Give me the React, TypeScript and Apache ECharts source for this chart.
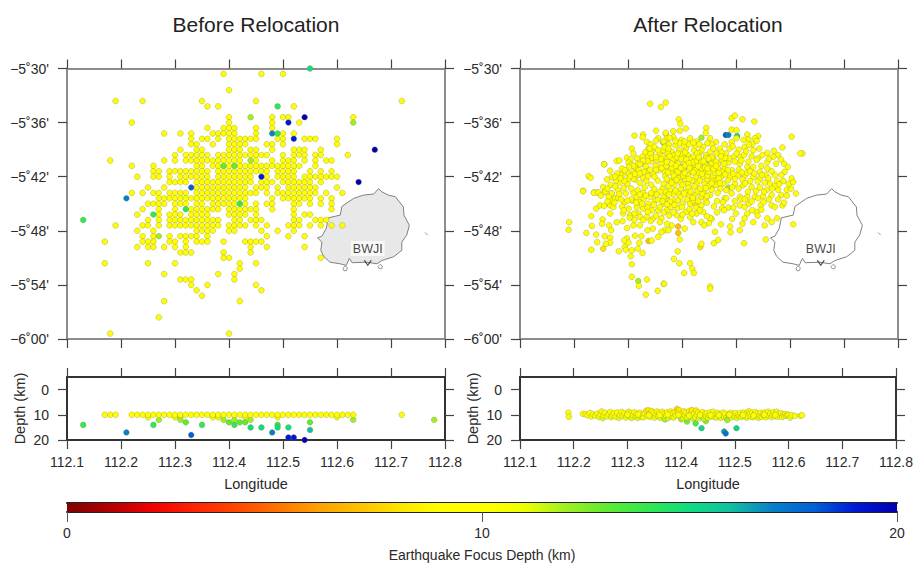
import React, { useEffect, useRef } from "react";
import * as echarts from "echarts";

const titles = ["Before Relocation", "After Relocation"];
const lonTicks = [112.1, 112.8];
const depthTickValues = [0, 10, 20];
const depthColors = ["#800000", "#b00000", "#ee0000", "#ff2000", "#ff4400", "#ff7000", "#ff9f00", "#ffc000", "#ffe400", "#ffff00", "#ffff00", "#f0ff00", "#a0f020", "#60ea30", "#30e850", "#10dc80", "#10c0a0", "#0880c8", "#0060d8", "#0018d8", "#0000b0"];

// Before relocation: epicentres on a 0.01 degree net.
// [hundredths south of 5.5S, [hundredths east of 112.1E ...]] all at 10 km
const beforeRows: [number, number[]][] = [
  [1, [29, 36, 40]], [4, [30]], [6, [9, 14, 25, 35, 62]], [7, [26, 28, 42]],
  [9, [30, 38, 40, 41, 53]], [10, [12, 30, 38, 43]], [11, [26, 29, 30, 31, 35, 38]],
  [12, [18, 21, 23, 27, 28, 29, 30, 31, 35, 40, 42]],
  [13, [23, 25, 26, 28, 30, 31, 32, 33, 34, 35, 39, 40, 44, 45, 46, 50]],
  [14, [23, 24, 27, 30, 31, 32, 33, 37, 38, 40, 50]],
  [15, [21, 24, 25, 30, 31, 32, 34, 35, 38, 42, 43, 44, 47]],
  [16, [20, 22, 23, 24, 25, 26, 28, 29, 30, 31, 32, 33, 34, 35, 36, 37, 40, 42, 43, 44, 46, 47, 52]],
  [17, [8, 18, 20, 22, 23, 24, 25, 26, 27, 28, 29, 30, 31, 32, 35, 38, 40, 41, 42, 44, 46, 48, 49]],
  [18, [12, 16, 24, 25, 27, 28, 30, 32, 33, 34, 35, 36, 37, 38, 39, 40, 41, 42, 43, 46]],
  [19, [16, 17, 19, 20, 21, 22, 23, 24, 25, 26, 28, 29, 30, 31, 32, 33, 34, 35, 36, 37, 39, 40, 41, 42, 45, 47, 49]],
  [20, [13, 16, 17, 19, 21, 22, 23, 24, 25, 26, 28, 29, 30, 31, 32, 33, 34, 37, 39, 40, 41, 42, 44, 45, 46, 47, 48, 49, 50]],
  [21, [19, 20, 21, 22, 24, 25, 26, 27, 28, 29, 30, 31, 32, 33, 34, 36, 37, 38, 40, 41, 42, 43, 44, 45, 47]],
  [22, [15, 18, 24, 25, 26, 27, 28, 29, 30, 31, 32, 33, 35, 36, 37, 39, 41, 42, 43, 44, 45, 46, 50]],
  [23, [12, 14, 16, 17, 19, 20, 21, 22, 24, 25, 26, 27, 28, 29, 30, 31, 32, 33, 34, 35, 37, 39, 40, 41, 42, 43, 44, 45, 46, 48, 51]],
  [24, [17, 18, 19, 20, 21, 22, 23, 24, 25, 26, 27, 28, 29, 30, 31, 32, 33, 38, 40, 41, 42, 43, 44, 45, 47, 49]],
  [25, [15, 16, 17, 18, 20, 21, 22, 24, 25, 27, 28, 29, 30, 31, 33, 35, 37, 38, 42, 43, 45, 47, 49]],
  [26, [14, 17, 20, 23, 24, 25, 26, 27, 28, 30, 31, 32, 33, 34, 35, 38, 42, 49]],
  [27, [13, 17, 19, 20, 21, 23, 24, 25, 26, 30, 31, 32, 33, 35, 42, 44, 45]],
  [28, [15, 17, 19, 20, 21, 22, 23, 24, 25, 26, 27, 28, 31, 32, 34, 35, 36, 42, 43, 46, 47, 48]],
  [29, [9, 14, 15, 17, 19, 20, 21, 22, 23, 24, 25, 26, 27, 28, 30, 31, 32, 33, 35, 37, 41, 42, 43, 45, 47, 49, 51]],
  [30, [13, 16, 24, 25, 26, 27, 30, 31, 36, 39, 42]],
  [31, [14, 16, 19, 21, 22, 23, 24, 26, 37, 41, 44]],
  [32, [7, 14, 15, 16, 19, 20, 22, 24, 25, 26, 29, 33, 34, 35, 36]],
  [33, [13, 15, 16, 18, 20, 22, 34, 37, 44]],
  [34, [21, 22, 23, 29, 34]], [35, [29, 30, 47]], [36, [7, 15, 20, 32, 35]], [37, [32]],
  [38, [18, 28, 31]], [39, [21, 22, 23, 31]], [40, [23, 26, 35]], [41, [24, 36]], [42, [25]],
  [43, [18, 32]], [46, [17]], [49, [8, 30]],
];
// [hundredths east, hundredths south, depth km]
const beforeColoured: number[][] = [
  [45, 0, 15], [39, 7, 14], [34, 9, 12], [44, 9, 20], [41, 10, 19], [53, 10, 12], [38, 12, 17], [39, 12, 14],
  [42, 13, 19], [57, 15, 20], [34, 17, 12], [29, 18, 13], [31, 18, 13], [36, 20, 19], [54, 21, 20], [23, 22, 18],
  [11, 24, 17], [32, 25, 14], [22, 26, 14], [16, 27, 14], [3, 28, 14], [17, 31, 12],
];
// Depth section before relocation: longitudes in hundredths east of 112.1
const beforeAt10 = [7, 8, 9, 12, 13, 14, 15, 16, 17, 18, 19, 20, 21, 22, 23, 24, 25, 26, 27, 28, 29, 30, 31, 32, 33, 34, 35, 36, 37, 38, 39, 40, 41, 42, 43, 44, 45, 46, 47, 48, 49, 50, 51, 52, 53, 62];
const beforeDeeper: number[][] = [
  [3, 14], [11, 17], [15, 11], [20, 11], [21, 11], [27, 11], [28, 11], [33, 11], [39, 11], [50, 11],
  [17, 12], [21, 12], [29, 12], [31, 12], [34, 12], [53, 12], [68, 12],
  [22, 13], [30, 13], [32, 13], [33, 13], [45, 13], [16, 14], [25, 14], [31, 14], [39, 14],
  [34, 15], [36, 15], [39, 15], [41, 15], [45, 16], [38, 17], [23, 18], [41, 19], [42, 19], [44, 20],
];

// After relocation: [thousandths east of 112E, thousandths south of 5S]
const afterPoints: number[][] = [
  [341,565],[370,563],[361,571],[352,615],[328,622],[312,624],[327,627],[370,621],[356,629],[352,633],[372,629],[335,636],
  [307,648],[338,648],[310,657],[332,655],[344,654],[359,658],[298,665],[305,668],[317,666],[327,663],[338,663],[367,670],[372,666],[301,674],
  [279,671],[284,670],[256,677],[267,689],[289,685],[227,699],[231,702],[270,701],[261,705],[217,726],[254,719],[237,729],[244,729],[257,728],[270,731],[282,725],
  [285,711],[299,713],[290,697],[301,694],[310,692],[492,592],[498,587],[512,594],[534,598],[394,594],[397,602],[407,611],[384,616],[445,610],[444,619],[396,615],[370,619],
  [492,613],[501,614],[521,622],[541,625],[535,629],[603,626],[452,629],[463,636],[479,640],[492,636],[501,629],[523,631],[538,634],[415,629],[399,632],[384,627],[366,635],
  [427,635],[439,645],[516,645],[543,648],[532,651],[586,646],[570,652],[578,660],[623,657],[619,657],[481,657],[464,657],[452,654],[436,651],[422,651],[407,648],[395,651],[381,654],[365,651],
  [508,663],[496,663],[515,660],[529,662],[541,666],[569,663],[558,673],[574,676],[589,676],[538,669],[486,674],[498,672],[507,676],[521,682],[532,682],[467,677],[455,675],[433,669],
  [421,663],[411,660],[402,663],[387,672],[424,679],[436,685],[452,685],[467,685],[479,685],[492,688],[544,691],[555,697],[572,697],[590,691],[603,703],[584,697],[532,700],[544,703],[560,703],[576,708],[563,713],
  [516,699],[504,697],[489,700],[473,700],[458,699],[439,700],[426,700],[411,697],[396,694],[381,693],[368,691],[384,706],[397,710],[411,713],[427,713],[442,713],[458,716],[476,713],[498,713],[513,716],[529,719],[544,720],[557,724],[578,724],[594,724],[602,722],[611,731],[584,734],[566,734],[550,736],[535,737],[521,737],[507,737],[492,731],[479,740],[465,745],[452,734],[436,737],[424,734],[408,728],[393,731],[378,725],[364,722],
  [371,740],[385,744],[401,750],[415,750],[436,753],[482,740],[476,747],[507,753],[516,756],[524,750],[546,753],[538,765],[547,761],[566,753],[572,756],[586,753],[589,748],[521,768],[516,777],[532,784],[512,787],[558,777],[576,777],[566,784],[553,790],[606,788],[555,816],[515,823],
  [489,792],[490,803],[472,788],[507,799],[455,778],[450,786],[461,802],[467,817],[459,823],[436,784],[421,784],[405,796],[396,816],[368,799],[381,790],[362,777],[390,771],[408,765],[427,768],[439,765],[452,776],[436,824],
  [392,838],[385,852],[395,860],[415,860],[419,870],[422,878],[404,878],[366,898],[452,903],[452,907],
  [191,784],[190,798],[232,773],[233,791],[223,804],[253,779],[252,787],[265,790],[269,799],[241,807],[257,810],[267,813],[243,821],[267,822],[259,824],[232,835],[283,838],[279,784],[290,782],[267,768],[241,759],[248,753],[267,753],[273,756],
  [298,814],[293,818],[301,822],[294,830],[296,835],[307,836],[321,822],[318,833],[327,841],[305,847],[307,862],[307,885],[320,902],[335,890],[367,898],[355,911],[333,918],[313,809],[325,810],[344,818],[356,811],[336,799],[298,795],[310,790],[322,790],[291,768],[304,771],[319,768],[335,774],[347,777],[359,784],[372,787],[346,796],[362,802],[375,799],
  [267,744],[276,740],[294,747],[307,744],[322,747],[338,750],[350,744],[365,750],[217,727],[237,730],[245,729],[258,728],[270,731],[296,731],[310,730],[328,730],[347,731],[369,728],[264,737],[282,739],[301,759],[316,756],[328,759],[344,762],[356,762],[372,762],[322,774],
  [306,678],[314,683],[325,676],[333,681],[342,672],[351,680],[362,676],[376,681],[383,668],[392,676],[404,672],[416,682],[426,672],[443,678],[458,667],[474,668],
  [318,697],[328,702],[336,690],[347,695],[357,688],[369,699],[377,707],[389,686],[403,687],[418,690],[431,693],[444,691],[461,693],[474,691],[485,688],
  [313,705],[322,712],[334,708],[343,715],[355,707],[366,713],[375,717],[386,715],[398,722],[406,704],[419,707],[433,707],[447,705],[462,707],[471,722],
  [292,721],[306,722],[318,725],[331,720],[349,723],[360,728],[372,735],[384,732],[397,738],[413,735],[429,727],[441,728],[455,724],[466,730],
  [342,640],[349,645],[356,651],[368,645],[376,640],[388,642],[396,638],[404,642],[413,640],[425,643],[432,656],[444,660],[455,664],[374,656],[386,660],[398,658],[415,668],[428,657],[364,662],[342,657],
  [306,742],[316,738],[329,741],[341,737],[355,742],[378,746],[392,744],[409,742],[421,744],[444,743],[348,752],[359,756],[379,756],[392,758],[414,760],[426,757],[446,748],[459,755],[474,758],[486,757],
  [371,680],[381,684],[392,691],[402,698],[413,704],[424,688],[436,672],[447,698],[456,708],[468,703],[349,700],[337,699],[329,691],[320,688],[310,704],[301,704],[293,708],[286,695],[278,707],[268,715],[262,722],[276,718],[284,732],[250,735],[262,746],[289,755],
  [312,768],[328,780],[342,782],[352,772],[366,766],[376,772],[398,778],[415,775],[441,790],[446,773],[465,766],[478,762],[495,757],[500,768],[493,778],[530,762],[540,772],[510,741],[498,745],[522,728],[537,727],[551,747],[561,742],[578,742],[594,735],[572,717],[588,708],[598,713],[553,711],[540,709],[526,708],[512,705],[498,704],[485,707],[520,693],[505,687],[510,670],[523,672],[547,680],[558,685],[566,690],[549,660],[558,656],[530,640],[505,650],[488,648],[470,648],[455,640],[445,665],
  [345,665],[353,669],[361,667],[377,662],[391,664],[399,667],[408,668],[419,674],[431,664],[440,671],[449,667],[463,672],[478,676],[372,673],[381,676],[389,680],[398,684],[406,679],[413,675],[430,681],[442,683],[449,691],[458,686],[468,693],
  [336,671],[328,670],[318,676],[310,680],[302,682],[294,688],[280,694],[276,700],[286,703],[304,699],[313,695],[322,694],[341,687],[352,687],[362,684],[374,692],[385,698],[393,703],[405,693],[414,684],[421,692],[437,695],[447,685],[463,680],
  [372,704],[381,711],[390,706],[401,715],[412,720],[423,718],[434,722],[449,717],[463,715],[480,696],[495,695],[511,692],[526,690],[534,694],[548,697],[517,712],[505,722],[493,720],[482,725],[470,712],[455,712],[444,721],[438,732],[446,736],
  [322,733],[333,735],[343,730],[353,733],[366,738],[376,733],[388,726],[404,731],[416,728],[420,739],[430,745],[400,756],[386,752],[372,751],[364,745],[336,757],[326,750],[315,748],[299,744],[287,742],[275,748],[256,754],[292,762],[303,776],[312,780],[337,765],[384,766],[401,770],[419,768],[433,762],
  [377,628],[388,634],[405,635],[421,637],[432,640],[447,638],[458,648],[473,655],[487,666],[501,657],[519,653],[524,641],[514,632],[494,644],[480,665],[472,662],[406,655],[392,657],[375,648],[352,664],[340,648],[322,677],[561,667],[583,668],[596,682],[606,710],[580,714],[567,722],[552,728],[541,740],[529,746],[516,742],
];
// [thousandths east of 112E, thousandths south of 5S, depth km]
const afterColoured: number[][] = [
  [481, 623, 18], [486, 623, 17], [502, 625, 15], [436, 628, 12], [447, 672, 12], [368, 671, 12], [396, 681, 12], [410, 681, 13], [486, 720, 12],
  [365, 637, 12], [256, 677, 12], [424, 751, 8], [393, 792, 7], [393, 804, 7], [434, 830, 8], [254, 833, 8], [338, 819, 7], [319, 893, 12],
];
// Depth section after relocation: [thousandths east of 112E, depth km]
const afterDepth: number[][] = [
  [190, 9.2], [191, 10.8], [217, 9.6], [222, 9.8], [226, 10.2], [230, 9.3], [233, 10.7], [236, 9.8], [240, 10.3], [244, 9.6], [247, 10.9], [250, 9.9], [252, 8.7], [254, 11.3], [256, 10.2], [258, 9.2], [262, 10.6], [265, 9.7], [268, 8.9], [270, 11], [272, 10.1], [275, 9.4], [278, 10.7], [281, 9.1],
  [284, 11.2], [286, 10], [289, 8.9], [291, 10.5], [294, 9.5], [297, 11.1], [299, 9.9], [302, 8.8], [304, 10.6], [306, 9.3], [308, 11.3], [310, 10], [313, 9], [315, 10.7], [317, 9.6], [319, 11.2], [321, 10.1], [323, 9.2], [326, 10.8], [328, 9.8], [330, 11], [332, 9.4], [335, 8.4], [337, 10.4], [339, 8.2], [341, 9.6], [343, 10.9], [345, 8.5], [347, 10.2], [349, 9.2], [351, 11.1],
  [353, 9.8], [355, 8.7], [357, 10.5], [359, 9.3], [361, 11.2], [363, 9.9], [365, 8.8], [367, 10.7], [369, 9.5], [370, 11.7], [372, 10.2], [374, 9], [376, 11.3], [378, 9.8], [380, 8.7], [382, 10.5], [384, 9.4], [386, 11.1], [388, 8.9], [390, 10.1], [392, 7.7], [394, 9.3], [396, 8.1], [398, 10.7], [400, 11.8], [401, 9.7], [403, 11.4], [405, 8.6], [407, 10.3], [409, 9.2], [411, 11], [413, 9.9], [415, 8.5], [417, 10.6], [419, 9.3], [420, 8.1], [422, 11.5], [424, 9.7], [426, 10.9], [428, 8.3], [430, 10.2], [432, 9.1], [434, 11.2], [436, 9.6], [438, 10.6], [440, 8.9], [442, 11.6],
  [444, 9.8], [446, 10.5], [448, 9.3], [450, 11.1], [452, 10.1], [454, 9.1], [456, 10.7], [458, 9.6], [460, 8.8], [462, 10.9], [464, 9.9], [466, 11.1], [468, 9.3], [470, 10.3], [472, 9.7], [474, 11.2], [476, 10], [478, 9.1], [480, 10.7], [482, 9.6], [484, 11.3], [486, 12.1], [488, 9.9], [490, 10.4], [492, 9.2], [494, 11], [496, 10.1], [498, 9.6], [500, 10.8], [502, 9.4], [504, 11.2], [506, 9.9], [508, 10.4], [510, 9.3], [512, 10.9], [514, 10], [516, 9.1], [518, 10.6], [520, 9.7], [522, 11.1], [524, 10.3], [526, 8.6], [528, 9.7], [530, 10.8], [532, 9.2], [534, 11], [536, 9.9], [538, 8.9], [540, 10.5], [542, 9.5], [544, 11.2], [546, 10.1], [548, 9.2], [550, 10.8], [552, 9.7], [554, 10.2], [556, 9.1], [558, 11], [560, 9.9], [562, 8.8], [564, 10.4], [566, 9.5], [568, 10.9], [570, 10], [572, 9], [574, 10.6], [576, 9.6], [578, 8.8], [580, 10.8], [582, 9.7], [584, 10.2], [586, 9.4], [588, 10.9], [590, 9.9], [592, 10.4], [594, 9.7], [596, 10.3], [598, 10], [600, 10.1], [603, 11.1], [606, 10.2], [612, 10.4], [622, 10.4], [625, 10.2],
  [300, 10], [320, 9.9], [340, 10.2], [360, 10.1], [375, 9.9], [395, 10.1], [415, 10.4], [435, 10.1], [455, 10.2], [470, 10.2], [490, 10], [515, 10.1], [535, 10.3], [555, 10], [575, 10.1],
];
const afterDepthDeep: number[][] = [
  [370, 11.8], [411, 12.7], [427, 13.4], [446, 12.5], [438, 15.3], [480, 16.6], [483, 17.4], [503, 15.3],
];

// BWJI island outline [lon, lat]
const islandLon = [112.677, 112.668, 112.649, 112.631, 112.609, 112.606, 112.584, 112.58, 112.572, 112.564, 112.572, 112.57, 112.575, 112.587, 112.606, 112.617, 112.623, 112.628, 112.655, 112.674, 112.683, 112.705, 112.72, 112.72, 112.729, 112.734, 112.724, 112.723, 112.708, 112.695, 112.683];
const islandLat = [-5.722, -5.732, -5.734, -5.74, -5.755, -5.771, -5.776, -5.796, -5.81, -5.813, -5.821, -5.836, -5.847, -5.858, -5.861, -5.864, -5.851, -5.859, -5.858, -5.861, -5.855, -5.848, -5.836, -5.821, -5.808, -5.79, -5.771, -5.756, -5.737, -5.734, -5.728];
const isletA = [[112.615, -5.865], [112.619, -5.868], [112.618, -5.873], [112.613, -5.874], [112.611, -5.869], [112.615, -5.865]];
const isletB = [[112.68, -5.862], [112.684, -5.865], [112.683, -5.87], [112.678, -5.87], [112.676, -5.866], [112.68, -5.862]];
const isletC = [[112.763, -5.803], [112.768, -5.808]];
const station = { name: "BWJI", lon: 112.657, lat: -5.859 };

const FONT = "Liberation Sans";
const TEXT = "#2a2a2a";

function latLabel(v: number) {
  const abs = Math.abs(v);
  const deg = Math.floor(abs + 1e-6);
  const min = Math.round((abs - deg) * 60);
  return `\u2212${deg}\u02da${String(min).padStart(2, "0")}'`;
}

function App() {
  const ref = useRef<HTMLDivElement>(null);
  useEffect(() => {
    const chart = echarts.init(ref.current!, undefined, { renderer: "svg" });

    const grids = [
      { left: 67, top: 68.5, width: 378, height: 270.5 },
      { left: 520, top: 68.5, width: 378, height: 270.5 },
      { left: 67, top: 377, width: 378, height: 63 },
      { left: 520, top: 377, width: 378, height: 63 },
      { left: 67, top: 503, width: 830, height: 10 },
    ];
    const xAxis: any[] = [];
    const yAxis: any[] = [];

    const lineX = (gridIndex: number, position: string, lineColor: string, labelled: boolean) => {
      xAxis.push({
        gridIndex, type: "value", position, min: lonTicks[0], max: lonTicks[1], interval: 0.1,
        axisLine: { onZero: false, lineStyle: { color: lineColor, width: 2 } },
        axisTick: { length: 9, inside: false, lineStyle: { color: "#444", width: 1.2 } },
        splitLine: { show: false },
        axisLabel: labelled
          ? { show: true, margin: 15, fontFamily: FONT, fontSize: 14, color: TEXT, formatter: (v: number) => v.toFixed(1), showMaxLabel: true, showMinLabel: true, hideOverlap: false }
          : { show: false },
        ...(labelled ? { name: "Longitude", nameLocation: "middle", nameGap: 36, nameTextStyle: { fontFamily: FONT, fontSize: 14.5, color: TEXT } } : {}),
      });
      return xAxis.length - 1;
    };
    const latY = (gridIndex: number, position: string, labelled: boolean) => {
      yAxis.push({
        gridIndex, type: "value", position, min: -6, max: -5.5, interval: 0.1,
        axisLine: { onZero: false, lineStyle: { color: "#8c8c8c", width: 2 } },
        axisTick: { length: 9, lineStyle: { color: "#444", width: 1.2 } },
        splitLine: { show: false },
        axisLabel: labelled ? { show: true, margin: 18, fontFamily: FONT, fontSize: 14, color: TEXT, formatter: latLabel } : { show: false },
      });
      return yAxis.length - 1;
    };
    const depthY = (gridIndex: number, position: string, labelled: boolean) => {
      yAxis.push({
        gridIndex, type: "value", position, min: -5, max: 20, inverse: true,
        axisLine: { onZero: false, lineStyle: { color: "#333", width: 2 } },
        axisTick: { length: 9, customValues: depthTickValues, lineStyle: { color: "#444", width: 1.2 } },
        splitLine: { show: false },
        axisLabel: labelled
          ? { show: true, margin: 18, fontFamily: FONT, fontSize: 14, color: TEXT, customValues: depthTickValues, formatter: (v: number) => String(v) }
          : { show: false },
        ...(labelled ? { name: "Depth (km)", nameLocation: "middle", nameRotate: 90, nameGap: 40, nameTextStyle: { fontFamily: FONT, fontSize: 14.5, color: TEXT } } : {}),
      });
      return yAxis.length - 1;
    };

    const mapAxes = [0, 1].map((g) => {
      const x = lineX(g, "bottom", "#8c8c8c", false);
      lineX(g, "top", "#8c8c8c", false);
      const y = latY(g, "left", true);
      latY(g, "right", false);
      return { x, y };
    });
    const depthAxes = [2, 3].map((g) => {
      const x = lineX(g, "bottom", "#333", true);
      lineX(g, "top", "#333", false);
      const y = depthY(g, "left", true);
      depthY(g, "right", false);
      return { x, y };
    });

    xAxis.push({
      gridIndex: 4, type: "value", position: "bottom", min: 0, max: 20, interval: 10,
      axisLine: { onZero: false, lineStyle: { color: "#222", width: 2 } },
      axisTick: { length: 10, lineStyle: { color: "#555", width: 1 } },
      splitLine: { show: false },
      axisLabel: { margin: 14, fontFamily: FONT, fontSize: 14, color: TEXT },
      name: "Earthquake Focus Depth (km)", nameLocation: "middle", nameGap: 36,
      nameTextStyle: { fontFamily: FONT, fontSize: 14, color: TEXT },
    });
    const barX = xAxis.length - 1;
    xAxis.push({
      gridIndex: 4, type: "value", position: "top", min: 0, max: 20,
      axisLine: { onZero: false, lineStyle: { color: "#222", width: 2 } },
      axisTick: { show: false }, axisLabel: { show: false }, splitLine: { show: false },
    });
    yAxis.push({
      gridIndex: 4, type: "value", min: 0, max: 1,
      axisLine: { show: false }, axisTick: { show: false }, axisLabel: { show: false }, splitLine: { show: false },
    });
    const barY = yAxis.length - 1;

    const dotStyle = { borderColor: "rgba(120,120,70,0.6)", borderWidth: 0.5, opacity: 1 };
    const scatter = (axes: { x: number; y: number }, data: number[][], size = 5.8) => ({
      type: "scatter", xAxisIndex: axes.x, yAxisIndex: axes.y, data, symbolSize: size,
      itemStyle: dotStyle, encode: { x: 0, y: 1 }, z: 3,
    });

    const beforeYellow: number[][] = [];
    beforeRows.forEach(([south, cols]) => cols.forEach((c) => beforeYellow.push([112.1 + c / 100, -(5.5 + south / 100), 10])));
    const beforeOther = beforeColoured.map(([c, s, d]) => [112.1 + c / 100, -(5.5 + s / 100), d]);
    const afterYellow = afterPoints.map(([a, b]) => [112 + a / 1000, -(5 + b / 1000), 10]);
    const afterOther = afterColoured.map(([a, b, d]) => [112 + a / 1000, -(5 + b / 1000), d]);
    const section1a = beforeDeeper.map(([c, d]) => [112.1 + c / 100, d, d]);
    const section1b = beforeAt10.map((c) => [112.1 + c / 100, 10, 10]);
    const section2a = afterDepthDeep.map(([a, d]) => [112 + a / 1000, d, d]);
    const section2b = afterDepth.map(([a, d]) => [112 + a / 1000, d, d]);

    const islandSeries = (axes: { x: number; y: number }, fill: string) => ({
      type: "custom", xAxisIndex: axes.x, yAxisIndex: axes.y, coordinateSystem: "cartesian2d",
      data: [[islandLon[0], islandLat[0]]], silent: true, z: 2, clip: true,
      renderItem: (_p: any, api: any) => {
        const style = { fill, stroke: "#808080", lineWidth: 1 };
        const line = { fill: "none", stroke: "#999", lineWidth: 1 };
        const pts = (list: number[][]) => list.map((q) => api.coord(q));
        return {
          type: "group",
          children: [
            { type: "polygon", shape: { points: pts(islandLon.map((v, i) => [v, islandLat[i]])) }, style },
            { type: "polyline", shape: { points: pts(isletA) }, style: line },
            { type: "polyline", shape: { points: pts(isletB) }, style: line },
            { type: "polyline", shape: { points: pts(isletC) }, style: line },
          ],
        };
      },
    });
    const stationSeries = (axes: { x: number; y: number }) => ({
      type: "scatter", xAxisIndex: axes.x, yAxisIndex: axes.y, z: 6,
      data: [[station.lon, station.lat]],
      symbol: "path://M0,0 L5,8 L10,0", symbolSize: [7, 5],
      itemStyle: { color: "none", borderColor: "#222", borderWidth: 1 },
      label: {
        show: true, position: "top", distance: 2, formatter: station.name, fontFamily: FONT, fontSize: 12.5, color: "#111",
        backgroundColor: "rgba(255,255,255,0.85)", padding: [1, 2],
      },
    });

    const series: any[] = [
      islandSeries(mapAxes[0], "#e8e8e8"),
      scatter(mapAxes[0], beforeYellow),
      scatter(mapAxes[0], beforeOther),
      stationSeries(mapAxes[0]),
      islandSeries(mapAxes[1], "none"),
      scatter(mapAxes[1], afterOther),
      scatter(mapAxes[1], afterYellow),
      stationSeries(mapAxes[1]),
      scatter(depthAxes[0], section1a),
      scatter(depthAxes[0], section1b),
      scatter(depthAxes[1], section2a),
      scatter(depthAxes[1], section2b),
      {
        type: "custom", xAxisIndex: barX, yAxisIndex: barY, coordinateSystem: "cartesian2d", data: [[0, 0]], silent: true, z: 1,
        renderItem: (_p: any, api: any) => {
          const a = api.coord([0, 1]);
          const b = api.coord([20, 0]);
          return {
            type: "rect",
            shape: { x: a[0], y: a[1], width: b[0] - a[0], height: b[1] - a[1] },
            style: {
              fill: new echarts.graphic.LinearGradient(0, 0, 1, 0,
                depthColors.map((color, i) => ({ offset: i / (depthColors.length - 1), color }))),
            },
          };
        },
      },
    ];
    const coloured = [1, 2, 5, 6, 8, 9, 10, 11];

    chart.setOption({
      animation: false,
      backgroundColor: "#ffffff",
      title: [
        { text: titles[0], left: 251, top: 9, textAlign: "center", textStyle: { fontFamily: FONT, fontSize: 21, fontWeight: "normal", color: "#222" } },
        { text: titles[1], left: 703, top: 9, textAlign: "center", textStyle: { fontFamily: FONT, fontSize: 21, fontWeight: "normal", color: "#222" } },
      ],
      grid: grids,
      xAxis,
      yAxis,
      visualMap: { show: false, type: "continuous", min: 0, max: 20, dimension: 2, seriesIndex: coloured, inRange: { color: depthColors } },
      series,
    });
    return () => chart.dispose();
  }, []);
  return <div ref={ref} style={{ position: "absolute", left: 0, top: 0, width: 916, height: 563 }} />;
}

export default App;
